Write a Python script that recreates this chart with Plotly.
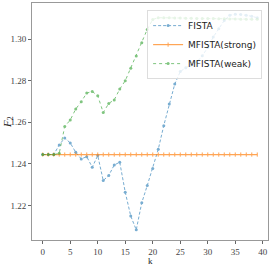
import plotly.graph_objects as go

k = list(range(40))

fista = [1.2445, 1.2445, 1.2445, 1.2491, 1.2525, 1.2501, 1.2456, 1.2424, 1.2435, 1.2384,
         1.2440, 1.2320, 1.2344, 1.2395, 1.2408, 1.2264, 1.2149, 1.2083, 1.2213, 1.2296,
         1.2378, 1.2470, 1.2584, 1.2688, 1.2784, 1.2844, 1.2863, 1.2875, 1.2890, 1.2920,
         1.2960, 1.3010, 1.3050, 1.3090, 1.3115, 1.3120, 1.3119, 1.3115, 1.3110, 1.3103]

mfista_strong = [1.2445] * 40

mfista_weak = [1.2445, 1.2445, 1.2445, 1.2451, 1.2580, 1.2611, 1.2664, 1.2699, 1.2741, 1.2748,
               1.2728, 1.2647, 1.2691, 1.2708, 1.2760, 1.2800, 1.2860, 1.2919, 1.2983, 1.3047,
               1.3095, 1.3103, 1.3103, 1.3103, 1.3102, 1.3102, 1.3101, 1.3101, 1.3100, 1.3100,
               1.3099, 1.3099, 1.3098, 1.3098, 1.3097, 1.3097, 1.3096, 1.3096, 1.3096, 1.3096]

x_ticks = [0, 5, 10, 15, 20, 25, 30, 35, 40]
y_ticks = [1.22, 1.24, 1.26, 1.28, 1.30]
y_tick_text = ["1.22", "1.24", "1.26", "1.28", "1.30"]

fig = go.Figure()
fig.add_trace(go.Scatter(
    x=k, y=fista, name="FISTA", mode="lines+markers",
    line=dict(color="#1f77b4", width=1, dash="3px,2px"),
    marker=dict(size=3, color="#1f77b4"), opacity=0.6))
fig.add_trace(go.Scatter(
    x=k, y=mfista_strong, name="MFISTA(strong)", mode="lines+markers",
    line=dict(color="#ff7f0e", width=1.2),
    marker=dict(size=3, color="#ff7f0e", symbol="line-ns", line=dict(width=1, color="#ff7f0e")),
    opacity=0.7))
fig.add_trace(go.Scatter(
    x=k, y=mfista_weak, name="MFISTA(weak)", mode="lines+markers",
    line=dict(color="#2ca02c", width=1, dash="dot"),
    marker=dict(size=3, color="#2ca02c"), opacity=0.6))

axis_common = dict(
    showgrid=False, zeroline=False, showline=True, linecolor="#999999", linewidth=1,
    mirror=True, ticks="outside", ticklen=3, tickcolor="#666666",
    tickfont=dict(family="Liberation Serif", size=9, color="#444444"),
    ticklabeloverflow="allow", automargin=False,
)

fig.update_xaxes(range=[-1.95, 40.95], tickvals=x_ticks, **axis_common)
fig.update_yaxes(range=[1.2034, 1.3174], tickvals=y_ticks, ticktext=y_tick_text, **axis_common)

fig.add_annotation(text="k", xref="paper", yref="paper", x=0.5, y=-0.09,
                   xanchor="center", yanchor="middle", showarrow=False,
                   font=dict(family="Liberation Serif", size=9, color="#222222"))
fig.add_annotation(text="<i>F</i><sub>2</sub>", xref="paper", yref="paper", x=-0.102, y=0.498,
                   xanchor="center", yanchor="middle", showarrow=False, textangle=-90,
                   font=dict(family="Liberation Serif", size=11, color="#222222"))

fig.update_layout(
    width=273, height=266,
    margin=dict(l=32, r=5, t=3, b=26),
    paper_bgcolor="white", plot_bgcolor="white",
    showlegend=True,
    legend=dict(x=0.975, y=0.97, xanchor="right", yanchor="top",
                bgcolor="rgba(255,255,255,0.8)", bordercolor="#dddddd", borderwidth=1,
                font=dict(family="DejaVu Sans", size=9, color="#222222"),
                tracegroupgap=0, itemwidth=30),
)

fig.write_html("out.html", config={"displayModeBar": False},
               post_script="document.body.style.margin='0';")
